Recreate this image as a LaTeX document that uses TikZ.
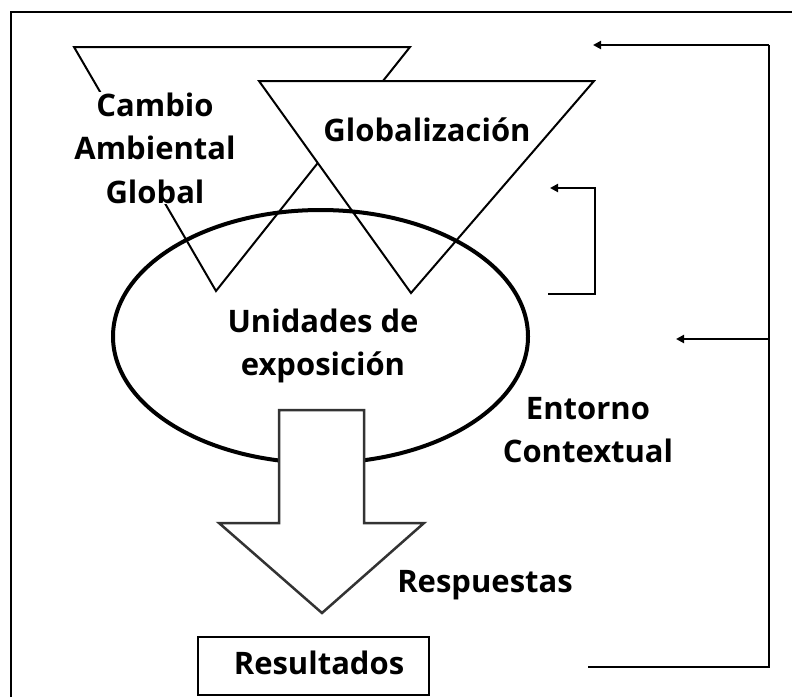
\documentclass[tikz,border=0pt]{standalone}
\usepackage{fontspec}
\setmainfont{Open Sans}
\usetikzlibrary{arrows.meta,shapes.geometric}
\begin{document}
\begin{tikzpicture}[x=1pt,y=-1pt,line join=miter]
\tikzset{
  thinline/.style={line width=2pt},
  lbl/.style={font=\fontsize{31}{43.5}\selectfont\bfseries, align=center, inner sep=3pt},
  fb/.style={line width=2pt,-{Triangle[length=8pt,width=8pt]}},
}
\useasboundingbox (0,0) rectangle (792,697);
% frame
\draw[line width=1.8pt] (11,697) -- (11,12) -- (792,12);
% triangle 1
\coordinate (t1a) at (74,47);
\coordinate (t1b) at (410,47);
\coordinate (t1c) at (216,291);
\draw[thinline] (t1a) -- (t1b) -- (t1c) -- cycle;
\node[lbl, fill=white, inner sep=1pt] (cag) at (155,148) {Cambio\\Ambiental\\Global};
% triangle 2
\coordinate (t2a) at (259,81);
\coordinate (t2b) at (594,81);
\coordinate (t2c) at (411,293);
\draw[thinline, fill=white] (t2a) -- (t2b) -- (t2c) -- cycle;
\node[lbl] (glob) at (427,130) {Globalización};
% ellipse
\node[draw, ellipse, line width=4pt, minimum width=415pt, minimum height=253pt, inner sep=0pt] (ue) at (320.5,336.5) {};
\node[lbl] (uetxt) at (323,346) {Unidades de\\exposición};
% block arrow
\coordinate (ba1) at (279,410);
\coordinate (ba2) at (364,410);
\coordinate (ba3) at (364,523);
\coordinate (ba4) at (424,523);
\coordinate (ba5) at (322,613);
\coordinate (ba6) at (219,523);
\coordinate (ba7) at (279,523);
\draw[line width=2.5pt, draw=black!80, fill=white] (ba1) -- (ba2) -- (ba3) -- (ba4) -- (ba5) -- (ba6) -- (ba7) -- cycle;
% result box
\node[draw, line width=2pt, minimum width=231pt, minimum height=58pt, inner sep=0pt] (resbox) at (313.5,666) {};
\node[lbl] (res) at (319,663) {Resultados};
% labels
\node[lbl] (ent) at (588,430) {Entorno\\Contextual};
\node[lbl] (resp) at (485,585) {Respuestas};
% feedback lines
\coordinate (rt) at (769,45);
\coordinate (rm) at (769,339);
\coordinate (rbot) at (769,667);
\coordinate (e1) at (593,45);
\coordinate (e2) at (676,339);
\coordinate (s3) at (588,667);
\draw[thinline] (s3) -- (rbot) -- (rt);
\draw[fb] (rt) -- (e1);
\draw[fb] (rm) -- (e2);
\coordinate (bs) at (548,294);
\coordinate (bc) at (595,188);
\coordinate (be) at (550,188);
\draw[fb] (bs) -| (bc) -- (be);
\end{tikzpicture}
\end{document}
